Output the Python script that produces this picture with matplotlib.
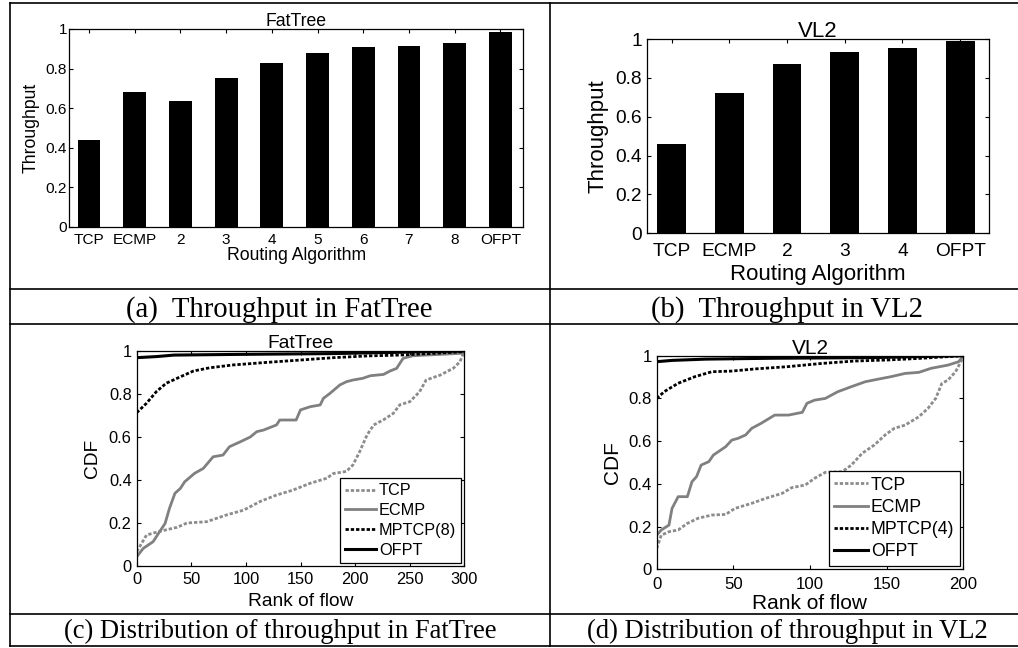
import numpy as np
import matplotlib
matplotlib.use('Agg')
import matplotlib.pyplot as plt
from matplotlib.ticker import FormatStrFormatter

plt.rcParams['font.family'] = ['Liberation Sans', 'DejaVu Sans']

W, H = 1018, 648

# --- 数据：吞吐量柱状图 ---
fat_algs = ['TCP', 'ECMP', '2', '3', '4', '5', '6', '7', '8', 'OFPT']
fat_thr = [0.438, 0.680, 0.634, 0.750, 0.830, 0.880, 0.911, 0.916, 0.929, 0.987]
vl2_algs = ['TCP', 'ECMP', '2', '3', '4', 'OFPT']
vl2_thr = [0.458, 0.722, 0.871, 0.931, 0.952, 0.988]

# --- 数据：CDF 曲线 (FatTree) ---
fat_tcp_x = [0, 9, 20, 37, 46, 64, 82, 98, 113, 128, 143, 159, 174, 180, 192, 198, 204, 211, 217,
             226, 235, 241, 250, 259, 265, 278, 290, 296, 300]
fat_tcp_y = [0.067, 0.144, 0.16, 0.18, 0.2, 0.206, 0.237, 0.26, 0.30, 0.33, 0.353, 0.385, 0.408, 0.43,
             0.44, 0.47, 0.53, 0.61, 0.656, 0.68, 0.71, 0.75, 0.764, 0.81, 0.865, 0.888, 0.92, 0.95, 1.0]
fat_ecmp_x = [0, 6, 15, 20, 26, 30, 35, 40, 44, 53, 61, 70, 79, 85, 95, 104, 110, 116, 128, 131, 146,
              150, 159, 168, 171, 177, 186, 192, 198, 207, 214, 226, 232, 238, 244, 253, 300]
fat_ecmp_y = [0.043, 0.082, 0.113, 0.152, 0.198, 0.268, 0.338, 0.361, 0.392, 0.431, 0.454, 0.508, 0.516,
              0.555, 0.578, 0.60, 0.625, 0.632, 0.656, 0.679, 0.679, 0.726, 0.741, 0.749, 0.78, 0.803,
              0.842, 0.857, 0.865, 0.873, 0.885, 0.891, 0.907, 0.919, 0.966, 0.978, 0.99]
fat_mptcp_x = [0, 9, 18, 27, 40, 52, 67, 88, 119, 150, 180, 211, 241, 272, 300]
fat_mptcp_y = [0.713, 0.757, 0.811, 0.85, 0.88, 0.907, 0.922, 0.935, 0.947, 0.958, 0.969, 0.977, 0.981,
               0.989, 0.997]
fat_ofpt_x = [0, 18, 34, 88, 180, 241, 300]
fat_ofpt_y = [0.969, 0.974, 0.981, 0.984, 0.988, 0.994, 1.0]

# --- 数据：CDF 曲线 (VL2) ---
vl2_tcp_x = [0, 3, 8, 14, 20, 27, 36, 45, 51, 62, 71, 82, 88, 97, 103, 110, 121, 127, 134, 142, 149,
             155, 162, 171, 177, 182, 186, 190, 195, 200]
vl2_tcp_y = [0.098, 0.16, 0.176, 0.184, 0.215, 0.239, 0.254, 0.257, 0.285, 0.309, 0.332, 0.356, 0.382,
             0.395, 0.426, 0.454, 0.457, 0.488, 0.543, 0.582, 0.629, 0.66, 0.675, 0.714, 0.754, 0.80,
             0.87, 0.886, 0.925, 0.995]
vl2_ecmp_x = [0, 3, 8, 10, 14, 20, 23, 26, 29, 34, 37, 45, 49, 53, 58, 62, 68, 77, 86, 95, 98, 103,
              110, 118, 127, 136, 145, 153, 162, 171, 179, 190, 197, 200]
vl2_ecmp_y = [0.16, 0.184, 0.207, 0.285, 0.34, 0.34, 0.41, 0.434, 0.488, 0.504, 0.535, 0.574, 0.605,
              0.613, 0.629, 0.66, 0.683, 0.722, 0.722, 0.735, 0.777, 0.792, 0.80, 0.831, 0.855, 0.878,
              0.891, 0.902, 0.917, 0.922, 0.941, 0.956, 0.972, 1.0]
vl2_mptcp_x = [0, 5, 14, 25, 36, 49, 64, 86, 108, 129, 151, 173, 200]
vl2_mptcp_y = [0.80, 0.832, 0.871, 0.902, 0.925, 0.928, 0.938, 0.949, 0.964, 0.975, 0.98, 0.988, 1.0]
vl2_ofpt_x = [0, 10, 32, 75, 140, 200]
vl2_ofpt_y = [0.972, 0.978, 0.984, 0.988, 0.991, 1.0]


def px_axes(fig, l, t, r, b):
    # 像素坐标 -> figure 比例
    return fig.add_axes([l / W, 1 - b / H, (r - l) / W, (b - t) / H])


def style_axes(ax, fs, xpad, ypad):
    ax.tick_params(direction='in', top=True, right=True, length=3, width=0.8, labelsize=fs)
    ax.tick_params(axis='x', pad=xpad)
    ax.tick_params(axis='y', pad=ypad)
    for s in ax.spines.values():
        s.set_linewidth(0.9)
    ax.yaxis.set_major_formatter(FormatStrFormatter('%g'))


def bar_panel(ax, algs, vals, fs_tick, fs_lab, title, xpad, ypad, xlp, ylp, tpad):
    x = np.arange(len(algs))
    ax.bar(x, vals, width=0.5, color='black')
    ax.set_xticks(x)
    ax.set_xticklabels(algs)
    ax.set_xlim(-0.43, len(algs) - 1 + 0.5)
    ax.set_ylim(0, 1)
    ax.set_yticks([0, 0.2, 0.4, 0.6, 0.8, 1])
    style_axes(ax, fs_tick, xpad, ypad)
    ax.set_xlabel('Routing Algorithm', fontsize=fs_lab, labelpad=xlp)
    ax.set_ylabel('Throughput', fontsize=fs_lab, labelpad=ylp)
    ax.set_title(title, fontsize=fs_lab, pad=tpad)


def cdf_panel(ax, series, xmax, mp_label, fs_tick, fs_lab, fs_leg, title, xpad, ypad, xlp, ylp, tpad):
    (tx, ty), (ex, ey), (mx, my), (ox, oy) = series
    ax.plot(tx, ty, color='#8c8c8c', lw=2.0, ls=(0, (1.2, 0.7)), label='TCP')
    ax.plot(ex, ey, color='#808080', lw=2.0, ls='-', label='ECMP')
    ax.plot(mx, my, color='black', lw=2.0, ls=(0, (1.2, 0.7)), label=mp_label)
    ax.plot(ox, oy, color='black', lw=2.2, ls='-', label='OFPT')
    ax.set_xlim(0, xmax)
    ax.set_ylim(0, 1)
    ax.set_xticks(np.arange(0, xmax + 1, 50))
    ax.set_yticks([0, 0.2, 0.4, 0.6, 0.8, 1])
    style_axes(ax, fs_tick, xpad, ypad)
    ax.set_xlabel('Rank of flow', fontsize=fs_lab, labelpad=xlp)
    ax.set_ylabel('CDF', fontsize=fs_lab, labelpad=ylp)
    ax.set_title(title, fontsize=fs_lab, pad=tpad)
    leg = ax.legend(loc='lower right', fontsize=fs_leg, fancybox=False, framealpha=1,
                    edgecolor='black', borderaxespad=0.2, borderpad=0.3, labelspacing=0.3,
                    handlelength=1.95, handletextpad=0.15)
    leg.get_frame().set_linewidth(0.9)


fig = plt.figure(figsize=(W / 100, H / 100), dpi=100)

# 表格线 + 子图说明
bg = fig.add_axes([0, 0, 1, 1], zorder=-1)
bg.set_xlim(0, W)
bg.set_ylim(H, 0)
bg.axis('off')
for y in [3.3, 289.3, 324.3, 614.3, 646]:
    bg.plot([10, W], [y, y], color='black', lw=1.2)
bg.plot([10, 10], [3.3, 646], color='black', lw=1.2)
bg.plot([550, 550], [3.3, 646], color='black', lw=1.2)

cap_top = dict(family='Liberation Serif', fontsize=20.7, ha='center', va='baseline')
cap_bot = dict(family='Liberation Serif', fontsize=19.2, ha='center', va='baseline')
bg.text(279, 317, '(a)  Throughput in FatTree', **cap_top)
bg.text(787, 317, '(b)  Throughput in VL2', **cap_top)
bg.text(280, 638, '(c) Distribution of throughput in FatTree', **cap_bot)
bg.text(787, 638, '(d) Distribution of throughput in VL2', **cap_bot)

ax_a = px_axes(fig, 69.3, 29, 523.3, 226.7)
bar_panel(ax_a, fat_algs, fat_thr, 11.1, 12.7, 'FatTree', 4.7, 1.7, 0, 3.9, 1.9)

ax_b = px_axes(fig, 646.7, 39, 989, 233.3)
bar_panel(ax_b, vl2_algs, vl2_thr, 13.8, 16, 'VL2', 6.8, 3.6, 3.2, 4.4, 1.2)

ax_c = px_axes(fig, 136.7, 351, 464.3, 566)
cdf_panel(ax_c, [(fat_tcp_x, fat_tcp_y), (fat_ecmp_x, fat_ecmp_y), (fat_mptcp_x, fat_mptcp_y),
                 (fat_ofpt_x, fat_ofpt_y)], 300, 'MPTCP(8)', 11.8, 13.8, 11.7, 'FatTree',
          4.5, 3.6, 4.5, 5.5, 2)

ax_d = px_axes(fig, 656.7, 355.7, 963.3, 569.3)
cdf_panel(ax_d, [(vl2_tcp_x, vl2_tcp_y), (vl2_ecmp_x, vl2_ecmp_y), (vl2_mptcp_x, vl2_mptcp_y),
                 (vl2_ofpt_x, vl2_ofpt_y)], 200, 'MPTCP(4)', 12.1, 15, 12.7, 'VL2',
          5.3, 3.6, 2, 4.2, 1)

fig.savefig('out.png', dpi=100)
